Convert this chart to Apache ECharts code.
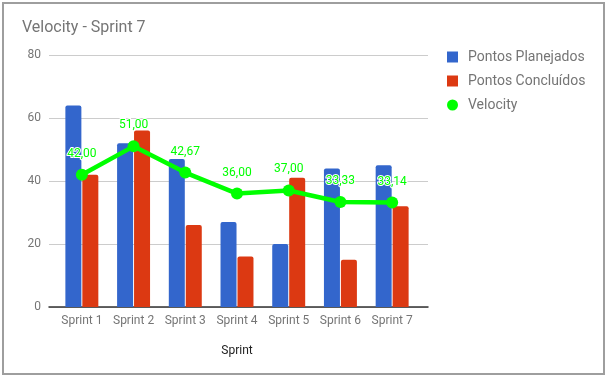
<!DOCTYPE html>
<html lang="pt">
<head>
    <meta charset="UTF-8">
    <title>Velocity - Sprint 7</title>
    <script src="https://cdn.jsdelivr.net/npm/echarts@6/dist/echarts.min.js"></script>
    <style>
        html, body { margin: 0; padding: 0; background: #fff; }
        #main { width: 606px; height: 377px; }
    </style>
</head>
<body>
    <div id="main"></div>
</body>
<script>

    // dados
    var sprints = ['Sprint 1', 'Sprint 2', 'Sprint 3', 'Sprint 4', 'Sprint 5', 'Sprint 6', 'Sprint 7'];
    var planejados = [64, 52, 47, 27, 20, 44, 45];
    var concluidos = [42, 56, 26, 16, 41, 15, 32];
    var velocity = [42.00, 51.00, 42.67, 36.00, 37.00, 33.33, 33.14];
    var yTicks = [0, 20, 40, 60, 80];

    var myChart = echarts.init(document.getElementById('main'));

    var grey = '#757575';
    var font = 'Roboto, Arial, sans-serif';

    var option = {
        animation: false,
        textStyle: { fontFamily: font },
        title: {
            text: 'Velocity - Sprint 7',
            left: 17,
            top: 15,
            textStyle: { color: grey, fontSize: 16, fontWeight: 'normal', fontFamily: font }
        },
        legend: {
            orient: 'vertical',
            left: 442,
            top: 45,
            itemWidth: 11,
            itemHeight: 11,
            itemGap: 10,
            textStyle: { color: grey, fontSize: 14, fontFamily: font, padding: [0, 0, 0, 5] },
            data: [
                { name: 'Pontos Planejados', icon: 'rect' },
                { name: 'Pontos Concluídos', icon: 'rect' },
                { name: 'Velocity', icon: 'circle' }
            ]
        },
        graphic: [
            {
                type: 'rect',
                shape: { x: 3, y: 3, width: 601, height: 371 },
                style: { fill: null, stroke: '#9e9e9e', lineWidth: 2 },
                silent: true
            }
        ],
        grid: [
            { left: 56, right: 188, top: 55, bottom: 70 },
            { left: 49, right: 178, top: 55, bottom: 70 }
        ],
        xAxis: [
            {
                type: 'category',
                gridIndex: 0,
                data: sprints,
                axisLine: { show: false },
                axisTick: { show: false },
                axisLabel: { color: grey, fontSize: 12, margin: 8, interval: 0 },
                name: 'Sprint',
                nameLocation: 'middle',
                nameGap: 38,
                nameTextStyle: { color: '#222', fontSize: 12 }
            },
            {
                type: 'value',
                gridIndex: 1,
                min: 0,
                max: 1,
                axisLine: { show: true, onZero: false, lineStyle: { color: '#333', width: 1.5 } },
                axisTick: { show: false },
                axisLabel: { show: false },
                splitLine: { show: false }
            }
        ],
        yAxis: [
            {
                type: 'value',
                gridIndex: 0,
                min: 0,
                max: 80,
                interval: 20,
                show: false
            },
            {
                type: 'value',
                gridIndex: 1,
                min: yTicks[0],
                max: yTicks[yTicks.length - 1],
                interval: 20,
                axisLine: { show: false },
                axisTick: { show: false },
                axisLabel: { color: grey, fontSize: 12, margin: 8 },
                splitLine: { lineStyle: { color: '#cccccc', width: 1 } }
            }
        ],
        series: [
            {
                name: 'Pontos Planejados',
                type: 'bar',
                xAxisIndex: 0,
                yAxisIndex: 0,
                data: planejados,
                barWidth: 16,
                barGap: '6%',
                itemStyle: { color: '#3366cc', borderRadius: [2, 2, 0, 0] }
            },
            {
                name: 'Pontos Concluídos',
                type: 'bar',
                xAxisIndex: 0,
                yAxisIndex: 0,
                data: concluidos,
                barWidth: 16,
                barGap: '6%',
                itemStyle: { color: '#dc3912', borderRadius: [2, 2, 0, 0] }
            },
            {
                name: 'Velocity',
                type: 'line',
                xAxisIndex: 0,
                yAxisIndex: 0,
                data: velocity,
                symbol: 'circle',
                symbolSize: 12,
                z: 5,
                lineStyle: { color: '#00ff00', width: 4.5 },
                itemStyle: { color: '#00ff00' },
                label: {
                    show: true,
                    position: 'top',
                    distance: 9,
                    color: '#00ff00',
                    fontSize: 12,
                    fontFamily: font,
                    textBorderColor: '#ffffff',
                    textBorderWidth: 2,
                    formatter: function (p) {
                        return p.value.toFixed(2).replace('.', ',');
                    }
                }
            }
        ]
    };

    myChart.setOption(option);

</script>
</html>
